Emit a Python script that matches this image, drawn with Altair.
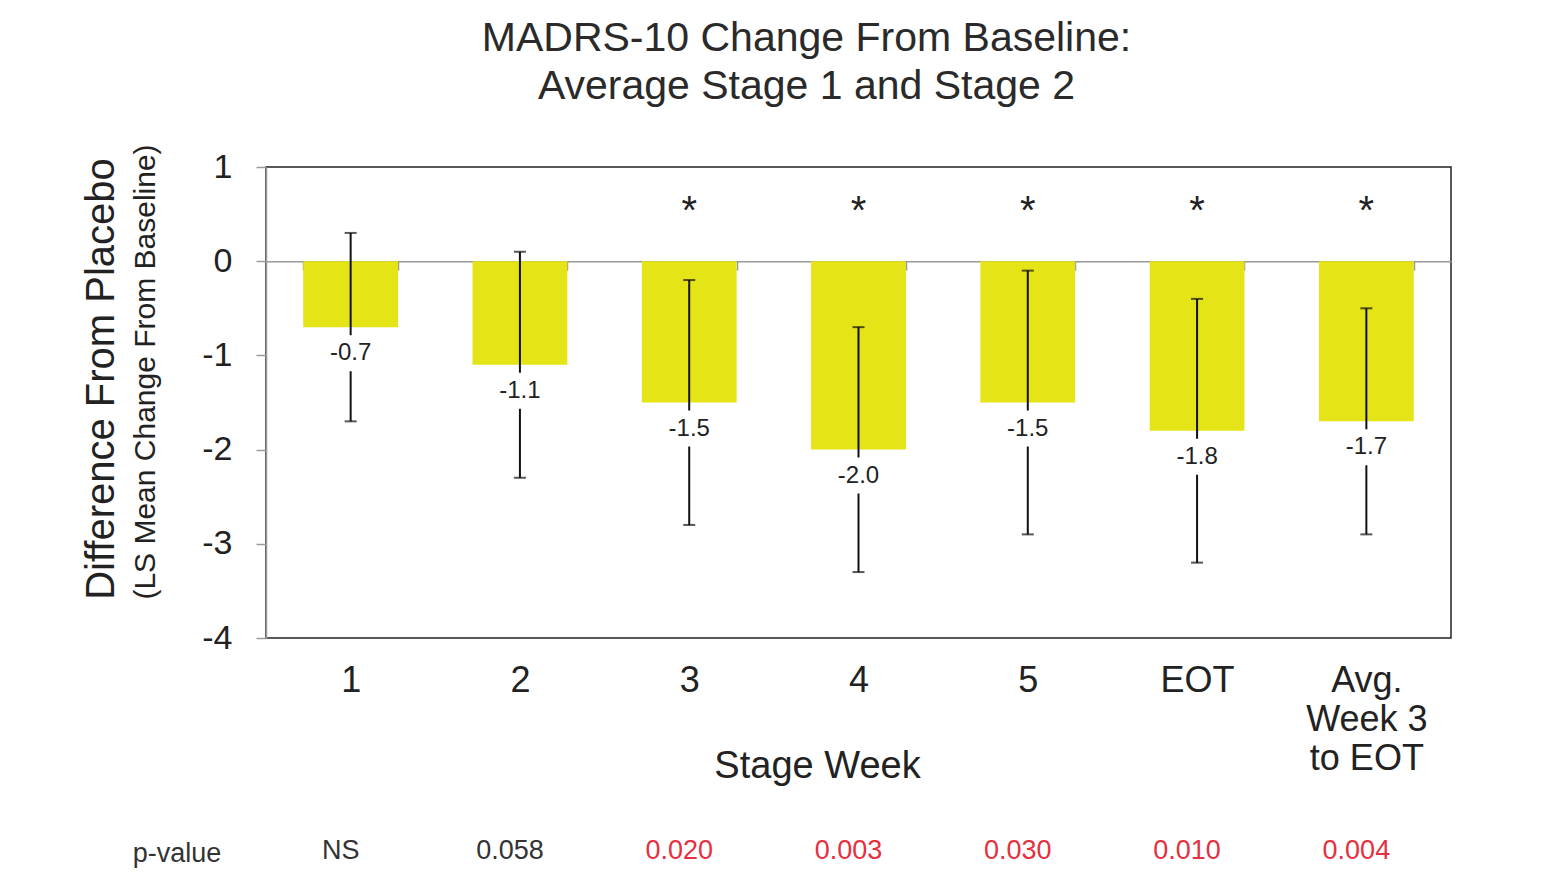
import altair as alt
import pandas as pd

weeks = ["1", "2", "3", "4", "5", "EOT", "Avg.|Week 3|to EOT"]
diff = [-0.7, -1.1, -1.5, -2.0, -1.5, -1.8, -1.7]
ci_low = [-1.7, -2.3, -2.8, -3.3, -2.9, -3.2, -2.9]
ci_high = [0.3, 0.1, -0.2, -0.7, -0.1, -0.4, -0.5]
stars = ["", "", "*", "*", "*", "*", "*"]
pvals = ["NS", "0.058", "0.020", "0.003", "0.030", "0.010", "0.004"]
significant = [False, False, True, True, True, True, True]
star_level = 0.6

FONT = "Liberation Sans"
TXT = "#222222"
GRAY = "#9a9a9a"
W, H = 1185, 471

df = pd.DataFrame({
    "week": weeks,
    "diff": diff,
    "lo": ci_low,
    "hi": ci_high,
    "star": stars,
    "p": pvals,
    "sig": significant,
})
df["label"] = [f"{v:.1f}" for v in diff]
df["star_y"] = star_level

xscale = alt.Scale(paddingInner=0.44, paddingOuter=0.22)
xaxis = alt.Axis(
    orient="bottom", offset=-H * 4 / 5, domainColor=GRAY, domainWidth=1.5,
    tickColor=GRAY, tickSize=9, tickWidth=1.5, tickBand="extent",
    labelExpr="split(datum.label, '|')", labelFont=FONT, labelFontSize=36,
    labelColor=TXT, labelPadding=393, labelLineHeight=39, labelAngle=0,
    labelBaseline="top", labelOverlap=False, labelFlush=False,
    title="Stage Week", titleFont=FONT, titleFontSize=38, titleFontWeight="normal",
    titleColor=TXT, titleX=551, titleY=505, titleBaseline="middle",
)
yscale = alt.Scale(domain=[-4, 1], nice=False, zero=False)
yaxis = alt.Axis(
    values=[1, 0, -1, -2, -3, -4], labelExpr="'' + datum.value", grid=False,
    domainColor=GRAY, domainWidth=1.5, tickColor=GRAY, tickSize=10, tickWidth=1.5,
    labelFont=FONT, labelFontSize=34, labelColor=TXT, labelPadding=24, title=None,
)


def X():
    return alt.X("week:N", sort=weeks, scale=xscale, axis=xaxis)


def Y(field):
    return alt.Y(f"{field}:Q", scale=yscale, axis=yaxis)


base = alt.Chart(df)

bars = base.mark_bar(color="#e4e416").encode(x=X(), y=Y("diff"), y2=alt.datum(0))
err = base.mark_rule(color="#111111", strokeWidth=2).encode(x=X(), y=Y("lo"), y2="hi:Q")
cap_lo = base.mark_tick(color="#111111", size=12, thickness=2).encode(x=X(), y=Y("lo"))
cap_hi = base.mark_tick(color="#111111", size=12, thickness=2).encode(x=X(), y=Y("hi"))
mask = base.mark_point(
    shape="M-1.45,-1L1.45,-1L1.45,1L-1.45,1Z", filled=True, color="white", opacity=1,
    size=1296, yOffset=26,
).encode(x=X(), y=Y("diff"))
labels = base.mark_text(
    font=FONT, fontSize=24, color=TXT, baseline="middle", yOffset=26,
).encode(x=X(), y=Y("diff"), text="label:N")
star_marks = base.mark_text(
    font=FONT, fontSize=40, color=TXT, baseline="middle", yOffset=7,
).encode(x=X(), y=Y("star_y"), text="star:N")
pv = base.mark_text(font=FONT, fontSize=27, baseline="middle", dx=-10).encode(
    x=X(), y=alt.value(684), text="p:N",
    color=alt.condition("datum.sig", alt.value("#e5303f"), alt.value("#333333")),
)

side = pd.DataFrame({
    "t": ["Difference From Placebo", "(LS Mean Change From Baseline)", "p-value"],
})
ytitle1 = alt.Chart(side).transform_filter("datum.t == 'Difference From Placebo'").mark_text(
    font=FONT, fontSize=40, color=TXT, angle=270, baseline="middle"
).encode(x=alt.value(-164), y=alt.value(212), text="t:N")
ytitle2 = alt.Chart(side).transform_filter("datum.t == '(LS Mean Change From Baseline)'").mark_text(
    font=FONT, fontSize=30, color=TXT, angle=270, baseline="middle"
).encode(x=alt.value(-120), y=alt.value(205), text="t:N")
plabel = alt.Chart(side).transform_filter("datum.t == 'p-value'").mark_text(
    font=FONT, fontSize=27, color="#333333", baseline="middle"
).encode(x=alt.value(-89), y=alt.value(687), text="t:N")

chart = alt.layer(
    bars, err, cap_lo, cap_hi, mask, labels, star_marks, pv, ytitle1, ytitle2, plabel
).properties(
    width=W, height=H,
    autosize=alt.AutoSizeParams(type="none"),
    padding={"left": 258, "top": 159, "right": 77, "bottom": 230},
    title=alt.TitleParams(
        ["MADRS-10 Change From Baseline:", "Average Stage 1 and Stage 2"],
        font=FONT, fontSize=41, fontWeight="normal", color="#2a2a2a", anchor="middle",
        dx=-52, offset=36, lineHeight=48,
    ),
).configure(font=FONT).configure_view(stroke="#222222", strokeWidth=1.5)

chart.save("out.html", embed_options={"renderer": "svg", "actions": False})
